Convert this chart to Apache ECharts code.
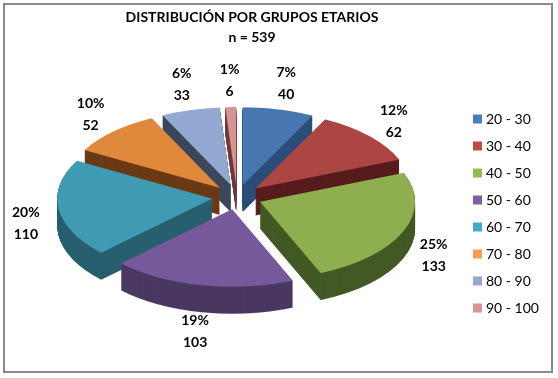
<!DOCTYPE html>
<html>
<head>
<meta charset="utf-8">
<script src="https://cdn.jsdelivr.net/npm/echarts@6/dist/echarts.min.js"></script>
<style>
  html, body { margin: 0; padding: 0; background: #fff; overflow: hidden; }
  #wrap { position: relative; width: 558px; height: 378px; overflow: hidden; background: #fff; }
  /* 3D look: the pie layer is squashed vertically, labels stay in the flat layer on top */
  #pie { position: absolute; left: 0; top: 0; width: 558px; height: 640px;
         transform-origin: 0 197px; transform: scaleY(0.5); }
  #main { position: absolute; left: 0; top: 0; width: 558px; height: 378px; }
  #frame { position: absolute; left: 3px; top: 3px; width: 546px; height: 366px;
           border: 2px solid #8a8a8a; pointer-events: none; }
</style>
</head>
<body>
<div id="wrap">
  <div id="pie"></div>
  <div id="main"></div>
  <div id="frame"></div>
</div>
<script>
// data
const groups = ['20 - 30', '30 - 40', '40 - 50', '50 - 60', '60 - 70', '70 - 80', '80 - 90', '90 - 100'];
const counts = [40, 62, 133, 103, 110, 52, 33, 6];

// colours (legend / lit top face / dark side)
const baseColors = ['#4a7ebb', '#be4b48', '#98b954', '#7d60a0', '#46aac5', '#f59d56', '#93a9d1', '#da9694'];
const topColors  = ['#4877b0', '#ac4643', '#8fae50', '#75599a', '#3f9ab3', '#e0883b', '#93a9d1', '#d49592'];
const sideColors = ['#2c4d77', '#571d1c', '#435925', '#4a3862', '#285f6e', '#6a3a14', '#3c475b', '#6e3e3d'];

const FONT = 'Lato, "Liberation Sans", sans-serif';
const CX = 237, CY = 197, R = 155;
const DEPTH = 54, STEPS = 54;
const LABEL_SQUASH = 0.595, LABEL_SHIFT = 10;
const total = counts.reduce((a, b) => a + b, 0);

function slicePie(cy, colors) {
  return {
    type: 'pie',
    center: [CX, cy],
    radius: R,
    startAngle: 90,
    clockwise: true,
    silent: true,
    animation: false,
    selectedMode: 'multiple',
    selectedOffset: 25,
    label: { show: false },
    labelLine: { show: false },
    emphasis: { disabled: true },
    itemStyle: { borderWidth: 0 },
    data: groups.map((g, i) => ({
      name: g, value: counts[i], selected: true,
      itemStyle: { color: colors[i] }
    }))
  };
}

const pieSeries = [];
for (let i = STEPS; i >= 1; i--) {
  pieSeries.push(slicePie(CY + DEPTH * i / STEPS, sideColors));
}
pieSeries.push(slicePie(CY, topColors));

const pieChart = echarts.init(document.getElementById('pie'), null, { renderer: 'canvas' });
pieChart.setOption({ animation: false, series: pieSeries });

const chart = echarts.init(document.getElementById('main'), null, { renderer: 'canvas' });
chart.setOption({
  animation: false,
  title: {
    text: 'DISTRIBUCIÓN POR GRUPOS ETARIOS\nn = ' + total,
    left: 252,
    top: 7,
    padding: 0,
    textAlign: 'center',
    textStyle: { fontFamily: FONT, fontSize: 14, fontWeight: 'bold', lineHeight: 20, color: '#000' }
  },
  legend: {
    orient: 'vertical',
    left: 473,
    top: 111,
    padding: 0,
    itemWidth: 9,
    itemHeight: 9,
    itemGap: 11,
    icon: 'rect',
    selectedMode: false,
    textStyle: { fontFamily: FONT, fontSize: 14, lineHeight: 16, color: '#000', padding: [0, 0, 0, -1] },
    data: groups.map((g, i) => ({ name: g, itemStyle: { color: baseColors[i] } }))
  },
  series: [{
    type: 'pie',
    center: [CX, CY],
    radius: [195, 225],
    startAngle: 90,
    clockwise: true,
    silent: true,
    percentPrecision: 0,
    itemStyle: { color: 'transparent', borderWidth: 0 },
    label: {
      position: 'inside',
      formatter: '{d}%\n{c}',
      fontFamily: FONT,
      fontSize: 14,
      fontWeight: 'bold',
      lineHeight: 22,
      color: '#000',
      align: 'center'
    },
    labelLine: { show: false },
    // flatten the label ring into an ellipse around the tilted pie
    labelLayout: function (p) {
      const c = p.labelRect.y + p.labelRect.height / 2;
      return { dy: (c - CY) * (LABEL_SQUASH - 1) + LABEL_SHIFT };
    },
    data: groups.map((g, i) => ({ name: g, value: counts[i] }))
  }]
});
</script>
</body>
</html>
